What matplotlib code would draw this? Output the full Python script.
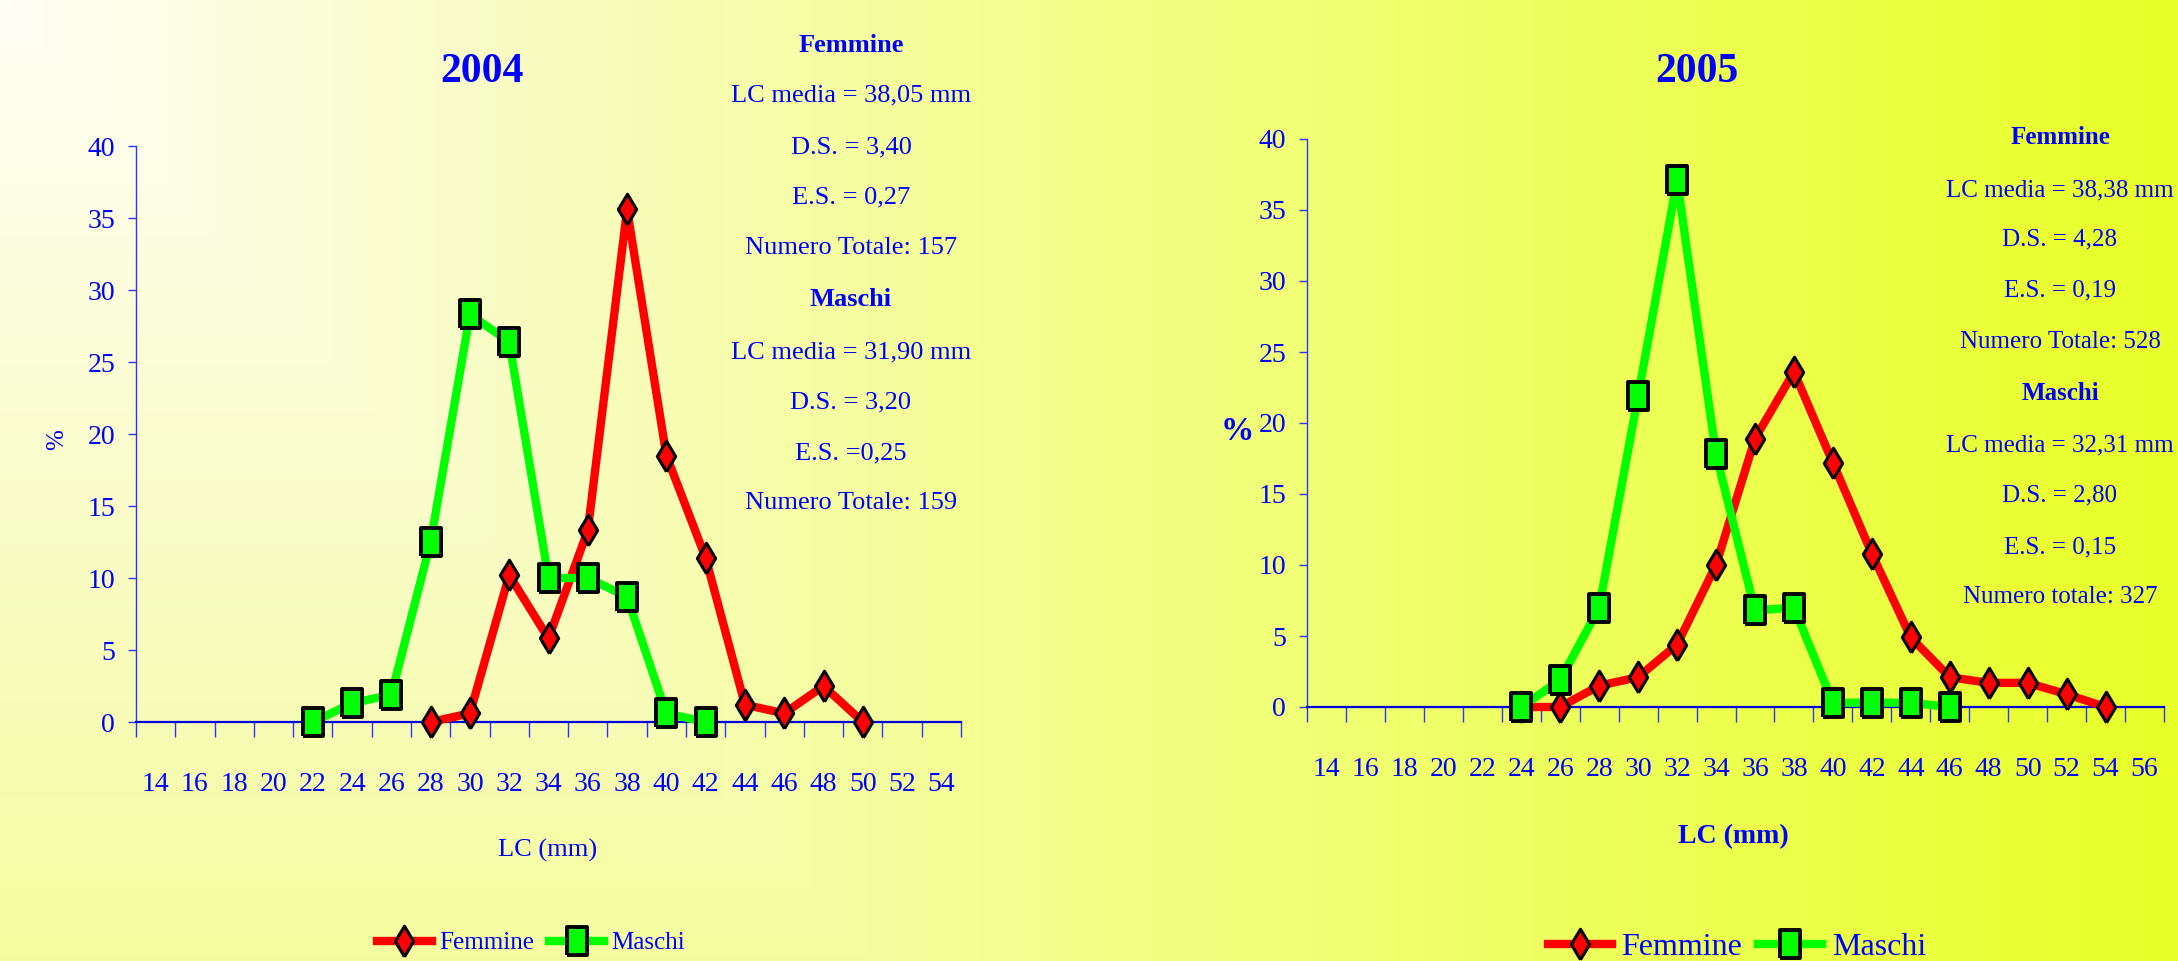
import numpy as np
import matplotlib
matplotlib.use("Agg")
import matplotlib.pyplot as plt
from matplotlib.colors import LinearSegmentedColormap
from matplotlib.lines import Line2D

plt.rcParams['font.family'] = ['Liberation Serif', 'DejaVu Serif']

# ---------------- data ----------------
cats_2004 = [14, 16, 18, 20, 22, 24, 26, 28, 30, 32, 34, 36, 38, 40, 42, 44, 46, 48, 50, 52, 54]
fem_2004 = [None, None, None, None, None, None, None, 0, 0.6, 10.2, 5.8, 13.3, 35.6, 18.5, 11.4, 1.2, 0.6, 2.5, 0, None, None]
mas_2004 = [None, None, None, None, 0, 1.3, 1.9, 12.5, 28.3, 26.4, 10.0, 10.0, 8.7, 0.6, 0, None, None, None, None, None, None]

cats_2005 = [14, 16, 18, 20, 22, 24, 26, 28, 30, 32, 34, 36, 38, 40, 42, 44, 46, 48, 50, 52, 54, 56]
fem_2005 = [None, None, None, None, None, 0, 0, 1.5, 2.1, 4.4, 10.0, 18.9, 23.6, 17.2, 10.8, 4.9, 2.1, 1.7, 1.7, 0.9, 0, None]
mas_2005 = [None, None, None, None, None, 0, 1.9, 7.0, 21.9, 37.1, 17.8, 6.8, 7.0, 0.3, 0.3, 0.3, 0, None, None, None, None, None]

info_2004 = ["Femmine", "LC media = 38,05 mm", "D.S. = 3,40", "E.S. = 0,27", "Numero Totale: 157",
             "Maschi", "LC media = 31,90 mm", "D.S. = 3,20", "E.S. =0,25", "Numero Totale: 159"]
info_2005 = ["Femmine", "LC media = 38,38 mm", "D.S. = 4,28", "E.S. = 0,19", "Numero Totale: 528",
             "Maschi", "LC media = 32,31 mm", "D.S. = 2,80", "E.S. = 0,15", "Numero totale: 327"]
yticks = [0, 5, 10, 15, 20, 25, 30, 35, 40]

# ---------------- figure ----------------
W, H = 2178, 961
fig = plt.figure(figsize=(W / 100, H / 100), dpi=100)

# background gradient
bg = fig.add_axes([0, 0, 1, 1], zorder=-10)
xx, yy = np.meshgrid(np.linspace(0, 1, 400), np.linspace(0, 1, 200))
t = np.maximum(xx, 0.4 * yy)
cmap = LinearSegmentedColormap.from_list(
    "bgy", [(0, "#FFFFF5"), (0.25, "#F8FCC0"), (0.5, "#F2FF88"), (1.0, "#E8FF28")])
bg.imshow(t, cmap=cmap, aspect='auto', extent=[0, 1, 1, 0], vmin=0, vmax=1)
bg.axis('off')

BLUE = '#0000FF'
sq = [(-0.36, -0.5), (0.36, -0.5), (0.36, 0.5), (-0.36, 0.5), (-0.36, -0.5)]
dm = [(0, -0.5), (0.3, 0), (0, 0.5), (-0.3, 0), (0, -0.5)]
LW = 6
MS_D = 22
MS_S = 20


def fx(px):
    return px / W


def fy(py):
    return 1 - py / H


def to_arr(v):
    return np.array([np.nan if a is None else a for a in v], dtype=float)


def panel(rect, cats, fem, mas):
    ax = fig.add_axes(rect)
    ax.patch.set_alpha(0)
    n = len(cats)
    x = np.arange(n)
    ax.plot(x, to_arr(fem), color='#FF0000', lw=LW, marker=dm, ms=MS_D,
            mfc='#FF0000', mec='black', mew=2.2, zorder=3, clip_on=False)
    ax.plot(x, to_arr(mas), color='#00FF00', lw=LW, marker=sq, ms=MS_S,
            mfc='#00FF00', mec='black', mew=2.8, zorder=4, clip_on=False)
    ax.set_xlim(-0.5, n - 0.5)
    ax.set_ylim(0, 40)
    for s in ['top', 'right']:
        ax.spines[s].set_visible(False)
    ax.spines['left'].set_color('#3333FF')
    ax.spines['left'].set_linewidth(1)
    ax.spines['bottom'].set_color('#0000DD')
    ax.spines['bottom'].set_linewidth(1.6)
    ax.set_yticks(yticks)
    ax.set_yticklabels([str(v) for v in yticks])
    ax.tick_params(axis='y', colors='#3333FF', labelcolor=BLUE, length=6, width=1,
                   labelsize=20, pad=9)
    ax.set_xticks(x)
    ax.set_xticklabels([str(c) for c in cats])
    ax.tick_params(axis='x', which='major', length=0, labelcolor=BLUE, labelsize=20, pad=36)
    ax.set_xticks(np.arange(n + 1) - 0.5, minor=True)
    ax.tick_params(axis='x', which='minor', length=11, width=1, color='#3333FF', direction='out')
    return ax


ax1 = panel([fx(136), fy(722), fx(961) - fx(136), fy(146) - fy(722)], cats_2004, fem_2004, mas_2004)
ax2 = panel([fx(1307), fy(707), fx(2164) - fx(1307), fy(139) - fy(707)], cats_2005, fem_2005, mas_2005)

# titles
fig.text(fx(482), fy(72), "2004", ha='center', va='center', fontsize=30, fontweight='bold', color=BLUE)
fig.text(fx(1697), fy(72), "2005", ha='center', va='center', fontsize=30, fontweight='bold', color=BLUE)

# axis labels
fig.text(fx(57), fy(440), "%", rotation=90, ha='center', va='center', fontsize=18, color=BLUE)
fig.text(fx(1237), fy(432), "%", ha='center', va='center', fontsize=24, fontweight='bold', color=BLUE)
fig.text(fx(548), fy(850), "LC (mm)", ha='center', va='center', fontsize=19, color=BLUE)
fig.text(fx(1733), fy(837), "LC (mm)", ha='center', va='center', fontsize=20, fontweight='bold', color=BLUE)

# info boxes
rows_2004 = [45, 95, 147, 197, 248, 300, 352, 402, 453, 503]
rows_2005 = [137, 190, 239, 290, 342, 393, 445, 495, 547, 597]
for txt, ry in zip(info_2004, rows_2004):
    bold = txt in ("Femmine", "Maschi")
    fig.text(fx(851), fy(ry), txt, ha='center', va='center', fontsize=19,
             fontweight='bold' if bold else 'normal', color=BLUE)
for txt, ry in zip(info_2005, rows_2005):
    bold = txt in ("Femmine", "Maschi")
    fig.text(fx(2060), fy(ry), txt, ha='center', va='center', fontsize=18,
             fontweight='bold' if bold else 'normal', color=BLUE)

# legends
def handles():
    h1 = Line2D([], [], color='#FF0000', lw=LW, marker=dm, ms=MS_D, mfc='#FF0000', mec='black', mew=2.2)
    h2 = Line2D([], [], color='#00FF00', lw=LW, marker=sq, ms=MS_S, mfc='#00FF00', mec='black', mew=2.8)
    return [h1, h2]

leg1 = fig.legend(handles(), ["Femmine", "Maschi"], loc='center', bbox_to_anchor=(fx(531), fy(943)),
                  ncol=2, frameon=False, fontsize=18, handlelength=2.2, handletextpad=0.3,
                  columnspacing=0.6, labelcolor=BLUE)
leg2 = fig.legend(handles(), ["Femmine", "Maschi"], loc='center', bbox_to_anchor=(fx(1737), fy(947)),
                  ncol=2, frameon=False, fontsize=23, handlelength=2.0, handletextpad=0.3,
                  columnspacing=0.5, labelcolor=BLUE)

fig.savefig("out.png", dpi=100)
